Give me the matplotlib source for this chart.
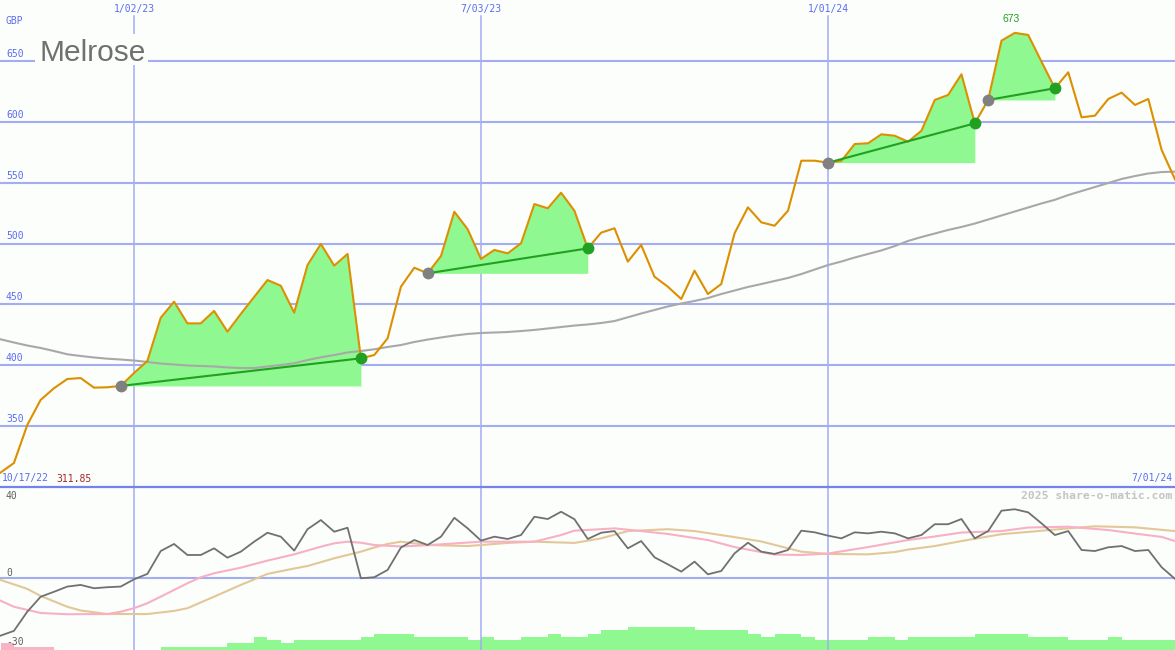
import numpy as np
import pandas as pd
import matplotlib
matplotlib.use("Agg")
import matplotlib.pyplot as plt
import matplotlib.dates as mdates
from matplotlib.patches import Rectangle
from matplotlib.lines import Line2D

W, H = 1175, 650

# ---------------- data ----------------
dates = pd.date_range("2022-10-24", "2024-07-01", freq="7D")   # weekly closes

price = [311.85, 319.7, 350.9, 371.5, 381.1, 388.7, 389.5, 381.6, 381.9, 383.0,
         393.6, 403.5, 439.0, 452.2, 434.4, 434.4, 444.6, 427.6, 442.1, 456.1,
         470.0, 465.3, 443.2, 482.3, 499.6, 481.8, 491.4, 405.7, 408.4, 422.1,
         464.5, 480.1, 475.5, 489.7, 526.1, 511.7, 487.3, 494.7, 491.9, 500.2,
         532.4, 528.9, 541.7, 526.9, 496.0, 508.9, 512.5, 485.1, 498.8, 472.7,
         464.5, 454.4, 477.7, 458.5, 466.7, 508.4, 529.7, 517.4, 514.6, 526.9,
         568.0, 568.0, 566.4, 567.8, 581.7, 582.3, 589.7, 588.5, 583.6, 592.6,
         617.9, 622.0, 639.0, 598.7, 617.9, 666.6, 673.0, 671.3, 649.3, 627.5,
         640.6, 603.6, 605.0, 618.7, 623.9, 613.8, 618.7, 576.8, 552.7]

moving_avg = [421.3, 418.7, 416.2, 414.2, 411.7, 409.0, 407.6, 406.4, 405.4, 404.7,
              403.9, 402.7, 401.4, 400.6, 399.8, 399.4, 399.0, 398.2, 397.7, 397.7,
              399.0, 400.2, 401.6, 404.3, 406.5, 408.4, 410.5, 411.7, 413.1, 415.0,
              416.6, 419.1, 421.1, 422.8, 424.4, 425.7, 426.5, 426.9, 427.3, 428.1,
              429.0, 430.2, 431.4, 432.6, 433.5, 434.7, 436.3, 439.4, 442.5, 445.4,
              448.3, 450.7, 452.8, 455.2, 458.5, 461.4, 464.3, 466.7, 469.2, 471.7,
              474.9, 478.6, 482.3, 485.2, 488.5, 491.4, 494.3, 497.9, 502.1, 505.3,
              508.2, 511.1, 513.6, 516.4, 519.7, 523.0, 526.3, 529.6, 532.9, 535.9,
              539.8, 543.1, 546.4, 549.7, 553.0, 555.4, 557.5, 558.7, 559.0]

# signal periods (week index into dates): start -> end
signal_start = [9, 32, 62, 74]
signal_end = [27, 44, 73, 79]

# oscillator panel
osc = [-27.5, -25.2, -16.0, -8.8, -6.4, -3.9, -3.1, -4.7, -4.2, -3.9,
       -0.4, 2.2, 13.2, 16.6, 11.3, 11.3, 14.5, 10.0, 12.9, 17.7,
       22.0, 20.1, 13.4, 23.7, 28.1, 22.5, 24.4, 0.1, 0.6, 4.1,
       14.9, 18.5, 16.1, 20.1, 29.2, 24.1, 18.2, 20.1, 19.0, 20.9,
       29.7, 28.6, 32.1, 28.5, 19.0, 22.0, 22.8, 14.5, 18.0, 10.2,
       6.8, 3.3, 8.1, 2.0, 3.6, 12.1, 17.2, 12.9, 11.8, 13.7,
       23.0, 22.2, 20.6, 19.3, 22.2, 21.7, 22.5, 21.7, 19.3, 20.9,
       26.1, 26.1, 28.6, 19.3, 22.8, 32.6, 33.3, 31.8, 26.5, 20.9,
       22.8, 13.7, 13.2, 15.0, 15.6, 13.2, 13.7, 5.4, -0.2]

pink_idx = [0, 1, 3, 5, 8, 9, 10, 11, 12, 14, 15, 16, 18, 20, 22, 24, 25, 26, 27, 28,
            30, 32, 36, 40, 42, 43, 45, 46, 48, 50, 53, 55, 58, 60, 62, 65, 68, 70, 72, 75,
            77, 80, 83, 85, 87, 88]
pink_vals = [-10.7, -13.6, -16.6, -17.2, -17.1, -16.0, -14.3, -11.9, -8.75, -2.3,
             0.6, 2.5, 5.2, 8.6, 11.6, 15.3, 16.9, 17.7, 17.2, 16.1,
             15.4, 16.0, 17.7, 17.7, 20.9, 23.0, 23.7, 24.1, 22.8, 21.4,
             18.5, 15.1, 11.5, 11.3, 12.0, 15.1, 18.5, 20.2, 22.1, 22.8,
             24.5, 24.9, 23.3, 21.6, 20.0, 18.0]

tan_idx = [0, 2, 3, 5, 6, 8, 11, 13, 14, 16, 18, 20, 22, 23, 25, 27, 28, 29, 30, 32,
           35, 38, 40, 43, 45, 47, 50, 52, 55, 57, 60, 62, 65, 67, 68, 70, 72, 75, 77, 80,
           82, 85, 88]
tan_vals = [-0.7, -5.0, -8.4, -13.6, -15.4, -17.1, -17.1, -15.6, -14.3, -8.75,
            -3.1, 2.2, 4.8, 6.0, 9.7, 12.9, 14.9, 16.6, 17.7, 16.1,
            15.6, 17.1, 17.7, 17.1, 19.3, 22.8, 23.7, 22.8, 19.9, 17.8,
            12.9, 11.8, 11.6, 12.7, 13.9, 15.6, 18.0, 21.3, 22.4, 24.1,
            25.1, 24.6, 22.8]

green_bars = ([0] * 12 + [1] * 5 + [2, 2, 4, 3, 2] + [3] * 5 + [4, 5, 5, 5] + [4] * 4 +
              [3, 4, 3, 3, 4, 4, 5, 4, 4, 5, 6, 6] + [7] * 5 + [6] * 4 + [5, 4, 5, 5, 4] +
              [3] * 4 + [4, 4, 3] + [4] * 5 + [5] * 4 + [4] * 3 + [3] * 3 + [4] + [3] * 5)
pink_bars = [2, 1, 1, 1] + [0] * 85

price_ticks = [350, 400, 450, 500, 550, 600, 650]
osc_ticks = [40, 0, -30]
date_ticks = ["2023-01-02", "2023-07-03", "2024-01-01"]
date_tick_labels = ["1/02/23", "7/03/23", "1/01/24"]
title = "Melrose"
currency = "GBP"
first_label = "10/17/22"
last_label = "7/01/24"
credit = "2025 share-o-matic.com"

# ---------------- styling ----------------
BG = "#fbfefb"
GRID = "#a4acf2"
LBL = "#5b6cf0"
PRICE_C = "#dc9000"
FILL_C = "#90f890"
TREND_C = "#22a022"
MA_C = "#a8a8a8"
MONO = "DejaVu Sans Mono"

x = mdates.date2num(dates)
xl = (x[0] - 0.3, x[-1])

fig = plt.figure(figsize=(W / 100, H / 100), dpi=100, facecolor=BG)

def fx(px):
    return px / W

def fy(py):
    return 1 - py / H

main_h = 487
ax = fig.add_axes([0, fy(main_h), 1, main_h / H])
ax.set_xlim(*xl)
ax.set_ylim(300, 700)
ax.set_axis_off()

for t in price_ticks:
    ax.axhline(t, color=GRID, lw=1.5, zorder=1)
    ax.text(6 / W, t + 5.8, str(t), transform=ax.get_yaxis_transform(),
            color=LBL, fontsize=7, family=MONO, va="center", ha="left")
for d in date_ticks:
    ax.axvline(mdates.date2num(pd.Timestamp(d)), ymax=1 - 16 / main_h,
               color=GRID, lw=1.1, zorder=1)

# signal fills and trend lines
for s, e in zip(signal_start, signal_end):
    ax.fill_between(x[s:e + 1], price[s:e + 1], price[s], color=FILL_C, lw=0, zorder=2)

ax.plot(x, moving_avg, color=MA_C, lw=1.5, zorder=3)
ax.plot(x, price, color=PRICE_C, lw=1.5, zorder=4)

for s, e in zip(signal_start, signal_end):
    ax.plot([x[s], x[e]], [price[s], price[e]], color=TREND_C, lw=1.5, zorder=5)
    ax.plot(x[s], price[s], "o", ms=8.5, color="#808080", mec="none", zorder=6)
    ax.plot(x[e], price[e], "o", ms=8.5, color=TREND_C, mec="none", zorder=6)

imax = int(np.argmax(price))
ax.annotate(f"{price[imax]:.0f}", (x[imax], price[imax]), xytext=(-3, 10),
            textcoords="offset points", ha="center", va="center",
            color=TREND_C, fontsize=7.5, family="Liberation Sans")

# ---------------- oscillator panel ----------------
axb = fig.add_axes([0, 0, 1, (H - main_h) / H])
axb.set_xlim(*xl)
axb.set_ylim(0, 50.15)
axb.set_axis_off()
axb.bar(x, green_bars, width=7, align="edge", color=FILL_C, lw=0)
axb.bar(x, pink_bars, width=7, align="edge", color="#f8b4c4", lw=0)

axi = fig.add_axes([0, 0, 1, (H - main_h) / H])
axi.set_xlim(*xl)
axi.set_ylim(-34.4, 44.0)
axi.set_axis_off()
axi.patch.set_visible(False)
axi.axhline(0, color=GRID, lw=1.5, zorder=1)
for d in date_ticks:
    axi.axvline(mdates.date2num(pd.Timestamp(d)), color=GRID, lw=1.1, zorder=1)
axi.plot(x[tan_idx], tan_vals, color="#e2c898", lw=1.5, zorder=2)
axi.plot(x[pink_idx], pink_vals, color="#f8b0c4", lw=1.5, zorder=3)
axi.plot(x, osc, color="#707070", lw=1.3, zorder=4)
osc_lbl_off = {40: -0.3, 0: 2.6, -30: -0.5}
for t in osc_ticks:
    axi.text(6 / W, t + osc_lbl_off[t], str(t), transform=axi.get_yaxis_transform(),
             color="#606060", fontsize=7, family=MONO, va="center", ha="left")

# separator
fig.add_artist(Line2D([0, 1], [fy(487), fy(487)], transform=fig.transFigure,
                      color="#7383ea", lw=1.6, zorder=4))

# ---------------- texts ----------------
for d, lab in zip(date_ticks, date_tick_labels):
    ax.text(mdates.date2num(pd.Timestamp(d)), fy(9), lab,
            transform=matplotlib.transforms.blended_transform_factory(ax.transData, fig.transFigure),
            color=LBL, fontsize=7, family=MONO, ha="center", va="center")

fig.text(fx(6), fy(21.5), currency, color=LBL, fontsize=7, family=MONO, va="center")
fig.text(fx(2), fy(478.5), first_label, color=LBL, fontsize=7, family=MONO, va="center")
fig.text(fx(56), fy(478.5), f"{price[0]:.2f}", color="#a02828", fontsize=7, family=MONO, va="center")
fig.text(fx(1172), fy(478.5), last_label, color=LBL, fontsize=7, family=MONO, va="center", ha="right")
fig.text(fx(1172), fy(496), credit, color="#c4c4c4", fontsize=8.2, family=MONO,
         weight="bold", va="center", ha="right")

fig.add_artist(Rectangle((fx(35), fy(65)), 113 / W, 31 / H, transform=fig.transFigure,
                         facecolor=BG, edgecolor="none", zorder=5))
fig.text(fx(40), fy(61), title, color="#707070", fontsize=21.5,
         family="Liberation Sans", va="baseline", ha="left", zorder=6)

fig.savefig("out.png", dpi=100, facecolor=BG)
